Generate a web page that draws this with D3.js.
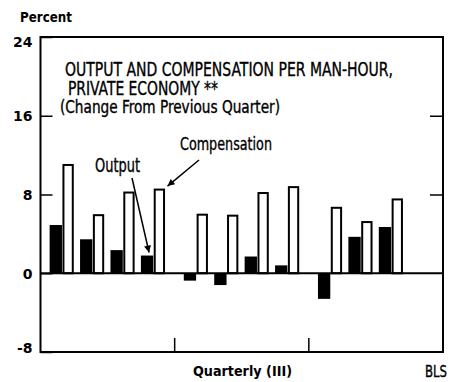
<!DOCTYPE html>
<html>
<head>
<meta charset="utf-8">
<script src="https://cdn.jsdelivr.net/npm/d3@7"></script>
<style>
  html, body { margin: 0; padding: 0; background: #fff; }
  svg { display: block; }
  .cond { font-family: "Liberation Sans Narrow", "DejaVu Sans Condensed", "Roboto Condensed", "Arial Narrow", Roboto, sans-serif; fill: #000; stroke: #000; stroke-width: 0.35px; }
  .bold { font-family: "DejaVu Sans", "Liberation Sans", sans-serif; font-weight: bold; fill: #000; }
</style>
</head>
<body>
<svg id="chart" width="460" height="382"></svg>
<script>
// Output and compensation per man-hour, private economy:
// percent change from previous quarter.
const years = ["y1", "y2", "y3"];
const quarterNames = ["I", "II", "III", "IV"];
const periodYear    = ["y1", "y1", "y1", "y1", "y2", "y2", "y2", "y2", "y3", "y3", "y3"];
const periodQuarter = ["I", "II", "III", "IV", "I", "II", "III", "IV", "I", "II", "III"];
const output       = [4.9, 3.45, 2.35, 1.8, -0.75, -1.2, 1.7, 0.8, -2.6, 3.7, 4.7];
const compensation = [11.0, 5.9, 8.2, 8.5, 5.95, 5.85, 8.15, 8.75, 6.65, 5.2, 7.5];
const seriesKeys = ["output", "compensation"];
const yTicks = [-8, 0, 8, 16, 24];
const yInnerTicks = [8, 16];

const svg = d3.select("#chart");

const plot = { left: 40.5, right: 443, top: 37, bottom: 352 };

const y = d3.scaleLinear().domain([-8, 24]).range([plot.bottom, plot.top]);
const xYear = d3.scaleBand().domain(years).range([plot.left, plot.right]);
const xQuarter = d3.scaleBand().domain(quarterNames)
  .range([0, xYear.bandwidth()]).paddingInner(0.19).paddingOuter(0.3);
const xSeries = d3.scaleBand().domain(seriesKeys).range([0, xQuarter.bandwidth()]);

const rows = output.map((v, i) => ({
  year: periodYear[i], quarter: periodQuarter[i],
  output: v, compensation: compensation[i]
}));
const groupX = d => xYear(d.year) + xQuarter(d.quarter);
const bw = xSeries.bandwidth();

// Output bars (solid)
svg.append("g").selectAll("rect").data(rows).join("rect")
  .attr("x", d => groupX(d) + xSeries("output"))
  .attr("y", d => y(Math.max(0, d.output)))
  .attr("width", bw)
  .attr("height", d => Math.abs(y(d.output) - y(0)))
  .attr("fill", "#000");

// Compensation bars (open)
svg.append("g").selectAll("rect").data(rows).join("rect")
  .attr("x", d => groupX(d) + xSeries("compensation") + 1.5)
  .attr("y", d => y(d.compensation))
  .attr("width", bw - 3)
  .attr("height", d => y(0) - y(d.compensation))
  .attr("fill", "#fff")
  .attr("stroke", "#000")
  .attr("stroke-width", 2);

// Zero line
svg.append("line")
  .attr("x1", plot.left).attr("x2", plot.right)
  .attr("y1", y(0)).attr("y2", y(0))
  .attr("stroke", "#000").attr("stroke-width", 2);

// Frame
svg.append("rect")
  .attr("x", plot.left).attr("y", plot.top)
  .attr("width", plot.right - plot.left).attr("height", plot.bottom - plot.top)
  .attr("fill", "none").attr("stroke", "#000").attr("stroke-width", 2);

// Left axis: inward ticks, labels outside
const leftAxis = svg.append("g")
  .attr("transform", `translate(${plot.left},0)`)
  .call(d3.axisLeft(y).tickValues(yTicks).tickSize(-12).tickPadding(8)
    .tickFormat(d => String(d)));
leftAxis.select(".domain").remove();
leftAxis.selectAll(".tick line").attr("stroke", "#000").attr("stroke-width", 1.5);
leftAxis.selectAll(".tick text")
  .attr("class", "bold")
  .style("font-size", "14px")
  .attr("font-family", null)
  .attr("dy", d => d === 24 ? "0.67em" : d === -8 ? "0.0em" : "0.34em");

// Right axis: inward ticks only
const rightAxis = svg.append("g")
  .attr("transform", `translate(${plot.right},0)`)
  .call(d3.axisRight(y).tickValues(yInnerTicks).tickSize(-13).tickFormat(""));
rightAxis.select(".domain").remove();
rightAxis.selectAll(".tick line").attr("stroke", "#000").attr("stroke-width", 1.5);

// Year dividers along the bottom edge
svg.append("g").selectAll("line").data(years.slice(1)).join("line")
  .attr("x1", d => xYear(d)).attr("x2", d => xYear(d))
  .attr("y1", plot.bottom).attr("y2", plot.bottom - 14)
  .attr("stroke", "#000").attr("stroke-width", 1.5);

// Texts
function label(txt, x, yy, cls, size, len) {
  const t = svg.append("text")
    .attr("class", cls)
    .attr("x", x).attr("y", yy)
    .style("font-size", size + "px")
    .text(txt);
  if (len) t.attr("textLength", len).attr("lengthAdjust", "spacingAndGlyphs");
  return t;
}

label("Percent", 20, 22, "bold", 13.5, 52);
label("OUTPUT AND COMPENSATION PER MAN-HOUR,", 65, 75.5, "cond", 19.5, 328);
label("PRIVATE ECONOMY **", 68, 95, "cond", 19, 150);
label("(Change From Previous Quarter)", 60, 113, "cond", 17, 220);
label("Compensation", 180, 149.5, "cond", 18.5, 92);
label("Output", 95, 172, "cond", 19, 45);
label("Quarterly (III)", 193, 376, "bold", 14, 99);
label("BLS", 425, 376.5, "cond", 15, 22);

// Arrow annotations
const defs = svg.append("defs");
defs.append("marker")
  .attr("id", "arrowhead")
  .attr("markerUnits", "userSpaceOnUse")
  .attr("viewBox", "0 0 10 10")
  .attr("refX", 10).attr("refY", 5)
  .attr("markerWidth", 9).attr("markerHeight", 7)
  .attr("orient", "auto")
  .append("path").attr("d", "M0,0 L10,5 L0,10 Z").attr("fill", "#000");

const key = rows[3];
const outTipX = groupX(key) + xSeries("output") + bw / 2 + 2;
const outTipY = y(key.output) - 3;
svg.append("line")
  .attr("x1", 132).attr("y1", 178)
  .attr("x2", outTipX).attr("y2", outTipY)
  .attr("stroke", "#000").attr("stroke-width", 1.5)
  .attr("marker-end", "url(#arrowhead)");

const compTipX = groupX(key) + xSeries("compensation") + bw + 2;
const compTipY = y(key.compensation) - 3.5;
svg.append("line")
  .attr("x1", 199).attr("y1", 160)
  .attr("x2", compTipX).attr("y2", compTipY)
  .attr("stroke", "#000").attr("stroke-width", 1.5)
  .attr("marker-end", "url(#arrowhead)");
</script>
</body>
</html>
